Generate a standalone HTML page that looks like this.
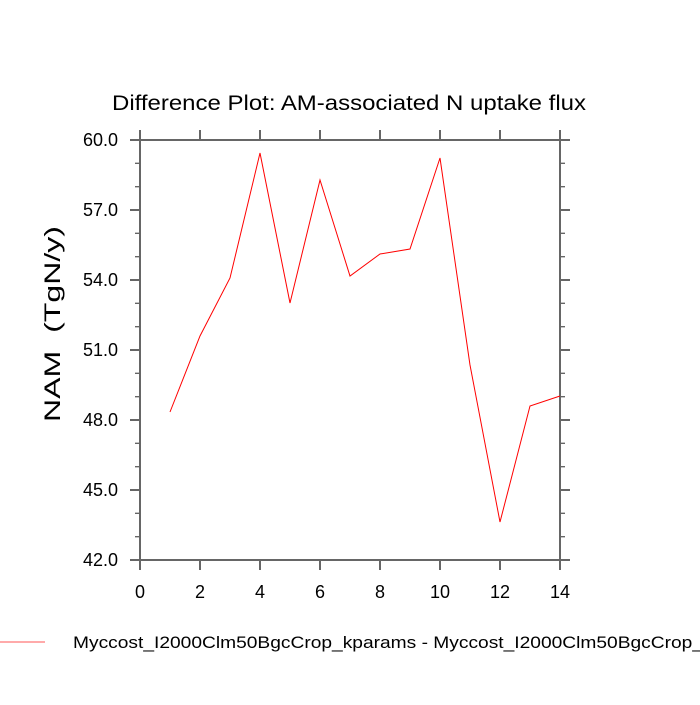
<!DOCTYPE html>
<html><head><style>body{margin:0;background:#fff}</style></head><body>
<svg width="700" height="700" xmlns="http://www.w3.org/2000/svg" font-family="Liberation Sans, sans-serif">
<rect width="700" height="700" fill="#fff"/>
<text x="349" y="110" font-size="21" text-anchor="middle" textLength="474" lengthAdjust="spacingAndGlyphs">Difference Plot: AM-associated N uptake flux</text>
<g stroke="#666" stroke-width="2" fill="none">
<rect x="140" y="140" width="420" height="420"/>
<path d="M140 560v10M200 560v10M260 560v10M320 560v10M380 560v10M440 560v10M500 560v10M560 560v10
M140 140v-10M200 140v-10M260 140v-10M320 140v-10M380 140v-10M440 140v-10M500 140v-10M560 140v-10
M140 140h-10M140 210h-10M140 280h-10M140 350h-10M140 420h-10M140 490h-10M140 560h-10
M560 140h10M560 210h10M560 280h10M560 350h10M560 420h10M560 490h10M560 560h10"/>
<path stroke-width="1.3" d="M140 163.3h-5M140 186.7h-5M140 233.3h-5M140 256.7h-5M140 303.3h-5M140 326.7h-5M140 373.3h-5M140 396.7h-5M140 443.3h-5M140 466.7h-5M140 513.3h-5M140 536.7h-5
M560 163.3h5M560 186.7h5M560 233.3h5M560 256.7h5M560 303.3h5M560 326.7h5M560 373.3h5M560 396.7h5M560 443.3h5M560 466.7h5M560 513.3h5M560 536.7h5"/>
</g>
<g font-size="18" text-anchor="end">
<text x="118" y="146">60.0</text><text x="118" y="216">57.0</text><text x="118" y="286">54.0</text><text x="118" y="356">51.0</text><text x="118" y="426">48.0</text><text x="118" y="496">45.0</text><text x="118" y="566">42.0</text>
</g>
<g font-size="18" text-anchor="middle">
<text x="140" y="598">0</text><text x="200" y="598">2</text><text x="260" y="598">4</text><text x="320" y="598">6</text><text x="380" y="598">8</text><text x="440" y="598">10</text><text x="500" y="598">12</text><text x="560" y="598">14</text>
</g>
<text transform="translate(60 324) rotate(-90)" font-size="22" text-anchor="middle" textLength="196" lengthAdjust="spacingAndGlyphs">NAM&#160;&#160;(TgN/y)</text>
<polyline fill="none" stroke="#f00" stroke-width="1" points="170,412 200,336 230,278 260,153 290,303 320,180 350,276 380,254 410,249 440,158 470,365 500,522 530,406 560,396"/>
<line x1="0" y1="642" x2="45" y2="642" stroke="#f55" stroke-width="1"/>
<text x="73" y="648" font-size="17" textLength="630" lengthAdjust="spacingAndGlyphs">Myccost_I2000Clm50BgcCrop_kparams - Myccost_I2000Clm50BgcCrop_</text>
</svg>
</body></html>
